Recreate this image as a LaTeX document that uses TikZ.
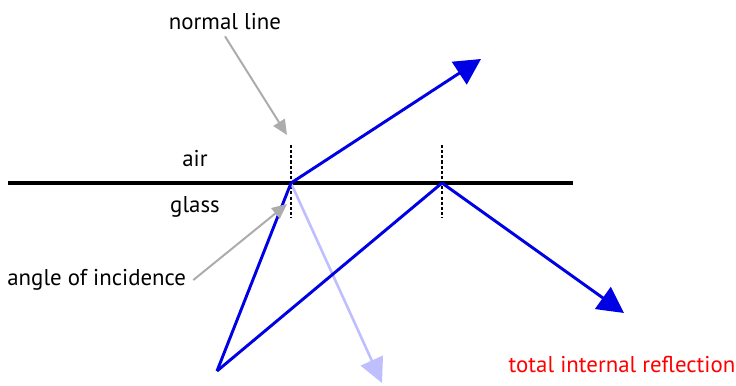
\documentclass[tikz,border=0pt]{standalone}
\usepackage{fontspec}
\setmainfont{PT Sans}
\usetikzlibrary{arrows.meta}
\begin{document}
\begin{tikzpicture}[x=0.03cm, y=-0.03cm,
          every node/.style={font=\fontsize{19.5}{22}\selectfont, inner sep=1pt},
          surface/.style={line width=3.2pt},
          normal/.style={line width=2pt, dash pattern=on 2.6pt off 1.8pt},
          ray/.style={draw=blue!90!black, line width=2.5pt, -{Triangle[length=0.78cm, width=0.8cm]}},
          beam/.style={draw=blue!90!black, line width=2.5pt, line join=round},
          faint/.style={draw=blue!25, line width=2.2pt, -{Triangle[length=0.74cm, width=0.72cm]}},
          pointer/.style={draw=gray!65, line width=1.7pt, -{Triangle[length=0.45cm, width=0.4cm]}}
        ]
        \useasboundingbox (0,0) rectangle (736,385);

        % Surface and normals
        \coordinate (surfL) at (8,183);
        \coordinate (surfR) at (573,183);
        \coordinate (hitA) at (291,183);
        \coordinate (hitB) at (442,183);
        \coordinate (normAtop) at (291,145);
        \coordinate (normAbot) at (291,218);
        \coordinate (normBtop) at (442,145);
        \coordinate (normBbot) at (442,218);
        \draw[surface] (surfL) -- (surfR);
        \draw[normal] (normAtop) -- (normAbot);
        \draw[normal] (normBtop) -- (normBbot);

        % Rays
        \coordinate (source) at (217,371);
        \coordinate (outA) at (481,59);
        \coordinate (weakA) at (382,383);
        \coordinate (outB) at (624,313);
        \draw[faint] (hitA) -- (weakA);
        \draw[beam] (source) -- (hitA);
        \draw[ray] (hitA) -- (outA);
        \draw[beam] (source) -- (hitB);
        \draw[ray] (hitB) -- (outB);

        % Labels
        \node (air) at (195,158) {air};
        \node (glass) at (195,207) {glass};
        \node (normlbl) at (225,22) {normal line};
        \node[anchor=west] (anglbl) at (6,280) {angle of incidence};
        \node[text=red] (tirlbl) at (622,364) {total internal reflection};
        \draw[pointer] ([yshift=-4pt]normlbl.south) -- (287,135);
        \draw[pointer] ([xshift=5pt]anglbl.east) -- (287,204);

      \end{tikzpicture}
\end{document}
